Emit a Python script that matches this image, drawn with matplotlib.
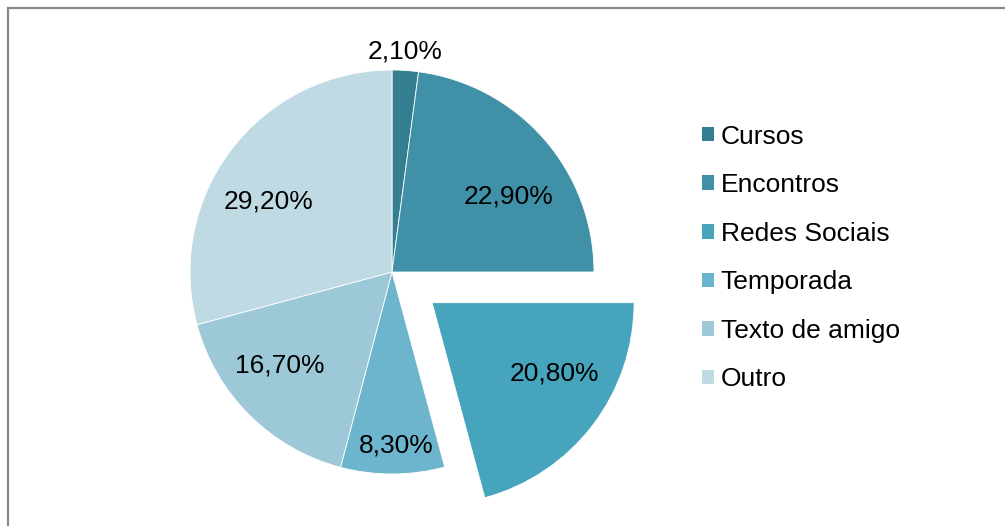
import matplotlib
matplotlib.use("Agg")
import matplotlib.pyplot as plt
from matplotlib.lines import Line2D
from matplotlib.patches import Patch
import numpy as np

plt.rcParams['font.family'] = ['Liberation Sans', 'DejaVu Sans']

categories = ["Cursos", "Encontros", "Redes Sociais", "Temporada", "Texto de amigo", "Outro"]
values = [2.1, 22.9, 20.8, 8.3, 16.7, 29.2]
labels = ["2,10%", "22,90%", "20,80%", "8,30%", "16,70%", "29,20%"]
colors = ["#347E91", "#4091A8", "#46A5BD", "#6DB5CC", "#9DC8D8", "#C0DAE3"]
explode = [0, 0, 0.25, 0, 0, 0]          # fraction of radius
label_dist = [1.10, 0.69, 0.70, 0.852, 0.72, 0.707]
label_rot = [0.4, -8.1, 7.7, 1.1, -5.5, 7.6]   # degrees offset from wedge mid-angle

W, H = 1005, 526
fig = plt.figure(figsize=(W / 100, H / 100), dpi=100)
ax = fig.add_axes([0, 0, 1, 1])

cx, cy, R = 392, H - 272, 202
wedges, _ = ax.pie(values, colors=colors, startangle=90, counterclock=False,
                   explode=[e * R for e in explode], center=(cx, cy), radius=R,
                   wedgeprops=dict(edgecolor='white', linewidth=0.6))
ax.set_xlim(0, W)
ax.set_ylim(0, H)
ax.set_aspect('auto')
ax.axis('off')

for w, lab, d, dr in zip(wedges, labels, label_dist, label_rot):
    ang = np.deg2rad((w.theta1 + w.theta2) / 2 + dr)
    wx, wy = w.center
    ax.text(wx + d * R * np.cos(ang), wy + d * R * np.sin(ang) - 1, lab,
            ha='center', va='center', fontsize=19, color='black')

handles = [Patch(facecolor=c, edgecolor='none') for c in colors]
fig.legend(handles, categories, loc='upper left', bbox_to_anchor=(691 / W, 1 - 114 / H),
           frameon=False, fontsize=19, handlelength=0.47, handleheight=0.47,
           handletextpad=0.25, labelspacing=0.93, borderaxespad=0)

fig.add_artist(Line2D([7.5 / W, 7.5 / W], [0, 1 - 7.5 / H], transform=fig.transFigure,
                      color='#898989', linewidth=1.6))
fig.add_artist(Line2D([7.5 / W, 1], [1 - 7.5 / H, 1 - 7.5 / H], transform=fig.transFigure,
                      color='#898989', linewidth=1.6))

fig.savefig("out.png", dpi=100)
